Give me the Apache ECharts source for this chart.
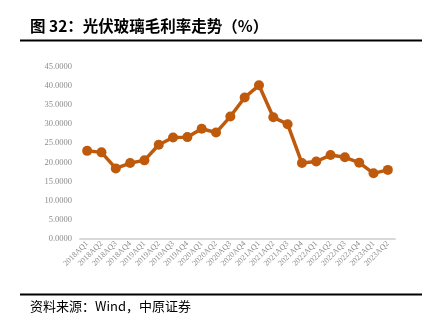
<!DOCTYPE html>
<html><head><meta charset="utf-8">
<script src="https://cdn.jsdelivr.net/npm/echarts@6/dist/echarts.min.js"></script>
<style>html,body{margin:0;padding:0;background:#fff}#c{width:442px;height:329px}</style>
</head><body><div id="c"></div>
<script>
const categories = ["2018AQ1","2018AQ2","2018AQ3","2018AQ4","2019AQ1","2019AQ2","2019AQ3","2019AQ4","2020AQ1","2020AQ2","2020AQ3","2020AQ4","2021AQ1","2021AQ2","2021AQ3","2021AQ4","2022AQ1","2022AQ2","2022AQ3","2022AQ4","2023AQ1","2023AQ2"];
const grossMargin = [23.0,22.6,18.4,19.8,20.5,24.6,26.5,26.6,28.8,27.8,32.0,37.0,40.2,31.8,30.0,19.8,20.2,21.9,21.3,19.9,17.1,18.0];
const titleText = "图 32：光伏玻璃毛利率走势（%）";
const sourceText = "资料来源：Wind，中原证券";

const chart = echarts.init(document.getElementById('c'));
chart.setOption({
  animation:false,
  backgroundColor:'#fff',
  grid:{left:80,right:47,top:67,bottom:90.5},
  xAxis:{type:'category',data:categories,boundaryGap:true,
    axisLine:{lineStyle:{color:'#d9d9d9',width:2}},axisTick:{show:false},
    axisLabel:{rotate:45,interval:0,fontSize:8,color:'#8c8c8c',fontFamily:'Liberation Serif',margin:4}},
  yAxis:{type:'value',min:0,max:45,interval:5,
    axisLine:{show:false},axisTick:{show:false},splitLine:{show:false},
    axisLabel:{formatter:v=>v.toFixed(4),fontSize:8.5,color:'#8c8c8c',fontFamily:'Liberation Serif',margin:8}},
  series:[{type:'line',data:grossMargin,symbol:'circle',symbolSize:10,
    lineStyle:{color:'#BF5A0C',width:3.5},itemStyle:{color:'#BF5A0C'}}],
  graphic:[
    {type:'text',left:30,top:18,style:{text:titleText,font:'bold 15.5px "Noto Sans CJK SC"',fill:'#000'}},
    {type:'rect',shape:{x:20,y:39.5,width:402,height:2},style:{fill:'#000'}},
    {type:'rect',shape:{x:20,y:293.5,width:402,height:2},style:{fill:'#000'}},
    {type:'text',left:30,top:300,style:{text:sourceText,font:'13px "Noto Sans CJK SC"',fill:'#000'}}
  ]
});
</script></body></html>
